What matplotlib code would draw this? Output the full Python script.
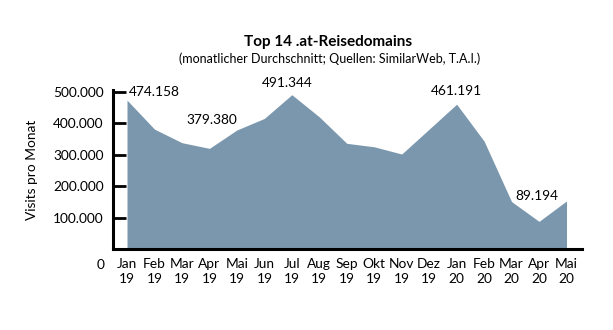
import numpy as np
import matplotlib.pyplot as plt

plt.rcParams['font.family'] = ['Lato', 'DejaVu Sans']

months = ['Jan\n19', 'Feb\n19', 'Mar\n19', 'Apr\n19', 'Mai\n19', 'Jun\n19', 'Jul\n19',
          'Aug\n19', 'Sep\n19', 'Okt\n19', 'Nov\n19', 'Dez\n19', 'Jan\n20', 'Feb\n20',
          'Mar\n20', 'Apr\n20', 'Mai\n20']
visits = [474158, 382000, 339000, 321000, 379380, 416000, 491344,
          421000, 337000, 326000, 303000, 382000, 461191, 344000,
          152000, 89194, 154000]
yticks = [100000, 200000, 300000, 400000, 500000]
ytick_labels = ['100.000', '200.000', '300.000', '400.000', '500.000']

# value labels: point index -> (x position, y centre) in data units
labelled = {0: (0.98, 501000), 4: (3.07, 411000), 6: (5.82, 527000),
            12: (12.0, 503000), 15: (14.92, 171000)}


def fmt(v):
    return f'{v:,}'.replace(',', '.')


x = np.arange(len(months))

fig = plt.figure(figsize=(6.13, 3.3), dpi=100)
ax = fig.add_axes([0.1848, 0.244, 0.764, 0.483])

ax.fill_between(x, visits, 0, color='#7b97ad', linewidth=0)

ax.set_xlim(-0.5, 16.55)
ax.set_ylim(0, 506000)

ax.spines['top'].set_visible(False)
ax.spines['right'].set_visible(False)
ax.spines['left'].set_linewidth(2.2)
ax.spines['bottom'].set_linewidth(2.2)

fs = 9.9
ax.set_yticks(yticks)
ax.set_yticklabels(ytick_labels)
ax.tick_params(axis='y', direction='in', length=9, width=2, labelsize=fs, pad=7)
ax.set_xticks(x)
ax.set_xticklabels(months)
ax.tick_params(axis='x', length=0, labelsize=fs, pad=6)
for lbl in ax.get_xticklabels():
    lbl.set_linespacing(1.3)

ax.text(-0.97, -49000, '0', ha='center', va='center', fontsize=fs, clip_on=False)

for i, (tx, ty) in labelled.items():
    ax.text(tx, ty, fmt(visits[i]), ha='center', va='center', fontsize=fs,
            clip_on=False)

ax.set_ylabel('Visits pro Monat', fontsize=fs)
ax.yaxis.set_label_coords(-0.16, 0.5)

fig.text(0.535, 0.874, 'Top 14 .at-Reisedomains', ha='center', va='center',
         fontsize=11, fontweight='bold')
fig.text(0.538, 0.823, '(monatlicher Durchschnitt; Quellen: SimilarWeb, T.A.I.)',
         ha='center', va='center', fontsize=9)

fig.savefig('out.png', dpi=100)
